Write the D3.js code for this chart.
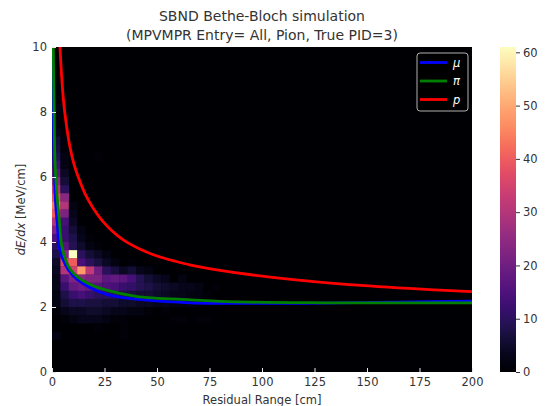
<!DOCTYPE html>
<html>
<head>
<meta charset="utf-8">
<script src="https://cdn.jsdelivr.net/npm/d3@7"></script>
<style>
  body { margin: 0; background: #fff; }
  text { font-family: "DejaVu Sans", sans-serif; fill: #333; }
</style>
</head>
<body>
<svg id="chart" width="547" height="406"></svg>
<script>
// ---- data ----
const titleLines = ["SBND Bethe-Bloch simulation", "(MPVMPR Entry= All, Pion, True PID=3)"];

// histogram: lower edge of each dE/dx row, counts per residual-range column (4 cm bins from 0)
const histBinR = 4;
const histBinE = 0.25;
const histE = [8.0, 7.75, 7.5, 7.25, 7.0, 6.75, 6.5, 6.25, 6.0, 5.75, 5.5, 5.25, 5.0, 4.75, 4.5, 4.25,
  4.0, 3.75, 3.5, 3.25, 3.0, 2.75, 2.5, 2.25, 2.0, 1.75, 1.5, 1.25, 1.0];
const histCounts = [
  [2],
  [1],
  [1],
  [3],
  [6, 1],
  [7, 1],
  [9, 2, 0, 0, 0, 1],
  [13, 2],
  [17, 4],
  [24, 6],
  [31, 10],
  [38, 24],
  [44, 30, 2],
  [40, 22, 3],
  [30, 14, 4],
  [22, 12, 6, 2],
  [15, 12, 8, 3, 1],
  [10, 16, 9, 5, 2, 1],
  [8, 24, 61, 10, 6, 4, 2],
  [5, 36, 40, 14, 10, 7, 4, 2, 0, 1],
  [4, 30, 34, 48, 32, 20, 10, 7, 4, 6, 3, 2],
  [3, 16, 22, 24, 22, 22, 17, 18, 17, 14, 9, 6, 4, 3, 0, 2],
  [3, 12, 18, 20, 18, 16, 15, 14, 12, 11, 9, 8, 6, 5, 4, 3, 3, 2, 0, 1],
  [2, 8, 12, 14, 12, 10, 10, 9, 8, 7, 6, 6, 5, 4, 3, 3, 2, 2, 1],
  [2, 6, 8, 8, 7, 7, 6, 6, 5, 5, 4, 4, 3, 3, 2, 2, 2, 1, 1, 1],
  [1, 3, 4, 4, 5, 5, 4, 3, 3, 2, 2, 1, 0, 1],
  [0, 1, 2, 3, 3, 3, 2, 1, 1, 0, 0, 0, 0, 0, 1, 1, 0, 1, 1],
  [0, 0, 0, 0, 0, 1, 0, 0, 1],
  [2, 0, 0, 0, 0, 0, 0, 0, 1]
];
const countMax = 61;

// Bethe-Bloch curves, points [residual range cm, dE/dx MeV/cm]
const muonCurve = [[0.3, 10], [0.6, 8], [1.0, 6.5], [1.5, 5.5], [1.9, 5.0], [2.6, 4.5], [3.3, 3.9],
  [5, 3.5], [7.8, 3.14], [12, 2.85], [18, 2.6], [26, 2.39], [40, 2.24], [66, 2.13], [94, 2.11],
  [130, 2.12], [165, 2.15], [200, 2.18]];
const pionCurve = [[0.6, 10], [1.0, 8], [1.4, 6.5], [2.3, 5.5], [3.0, 5.0], [3.7, 4.5], [4.6, 3.9],
  [6.5, 3.45], [8.6, 3.17], [12, 2.93], [18, 2.7], [26, 2.52], [40, 2.33], [66, 2.22], [94, 2.15],
  [130, 2.13], [165, 2.13], [200, 2.13]];
const protonCurve = [[3.8, 10], [4.5, 9.19], [5.4, 8.4], [6.5, 7.77], [8.5, 6.94], [10.5, 6.39],
  [12.5, 6.0], [16, 5.45], [20, 5.0], [24, 4.65], [28, 4.38], [32, 4.16], [36, 3.98], [42, 3.78],
  [50, 3.57], [58, 3.42], [66, 3.29], [80, 3.13], [94, 3.0], [115, 2.84], [137, 2.71], [170, 2.57],
  [200, 2.47]];

const legendNames = ["\u03bc", "\u03c0", "p"];
const curveColors = ["#0000ff", "#008000", "#ff0000"];
const cbarTicks = [0, 10, 20, 30, 40, 50, 60];

// ---- layout ----
const svg = d3.select("#chart");
const plotLeft = 52, plotRight = 472, plotTop = 47, plotBottom = 372;

const x = d3.scaleLinear().domain([0, 200]).range([plotLeft, plotRight]);
const y = d3.scaleLinear().domain([0, 10]).range([plotBottom, plotTop]);
const color = (n) => d3.interpolateMagma(n / countMax);

// title
svg.selectAll(".title")
  .data(titleLines)
  .enter()
  .append("text")
  .attr("x", (plotLeft + plotRight) / 2)
  .attr("y", (d, i) => 21 + i * 19)
  .attr("text-anchor", "middle")
  .style("font-size", "14px")
  .text(d => d);

// plot background = zero bin colour
const defs = svg.append("defs");
defs.append("clipPath").attr("id", "plotclip")
  .append("rect")
  .attr("x", plotLeft).attr("y", plotTop)
  .attr("width", plotRight - plotLeft).attr("height", plotBottom - plotTop);

svg.append("rect")
  .attr("x", plotLeft).attr("y", plotTop)
  .attr("width", plotRight - plotLeft).attr("height", plotBottom - plotTop)
  .attr("fill", color(0));

// flatten histogram into cells
let cells = [];
histE.forEach((e, i) => {
  histCounts[i].forEach((n, j) => {
    if (n > 0) cells.push({ r: j * histBinR, e: e, n: n });
  });
});

const plot = svg.append("g").attr("clip-path", "url(#plotclip)");

plot.selectAll("rect.cell")
  .data(cells)
  .enter()
  .append("rect")
  .attr("class", "cell")
  .attr("x", d => x(d.r))
  .attr("y", d => y(d.e + histBinE))
  .attr("width", d => x(d.r + histBinR) - x(d.r) + 0.3)
  .attr("height", d => y(d.e) - y(d.e + histBinE) + 0.3)
  .attr("fill", d => color(d.n));

// curves
const line = d3.line()
  .x(d => x(d[0]))
  .y(d => y(d[1]))
  .curve(d3.curveCatmullRom.alpha(0.5));

[muonCurve, pionCurve, protonCurve].forEach((c, i) => {
  plot.append("path")
    .datum(c)
    .attr("d", line)
    .attr("fill", "none")
    .attr("stroke", curveColors[i])
    .attr("stroke-width", 2.8);
});

// axes (ticks point inward)
const xAxis = d3.axisBottom(x).tickValues([0, 25, 50, 75, 100, 125, 150, 175, 200])
  .tickSize(-4).tickPadding(6);
const gx = svg.append("g").attr("transform", `translate(0,${plotBottom})`).call(xAxis);

const yAxis = d3.axisLeft(y).tickValues([0, 2, 4, 6, 8, 10])
  .tickSize(-4).tickPadding(5);
const gy = svg.append("g").attr("transform", `translate(${plotLeft},0)`).call(yAxis);

[gx, gy].forEach(g => {
  g.select(".domain").remove();
  g.selectAll(".tick line").attr("stroke", "#e8e8e8").attr("stroke-width", 1);
  g.selectAll(".tick text").style("font-size", "11.5px").style("font-family", "DejaVu Sans").attr("fill", "#333");
});

// axis labels
svg.append("text")
  .attr("x", (plotLeft + plotRight) / 2)
  .attr("y", 404)
  .attr("text-anchor", "middle")
  .style("font-size", "11.5px")
  .text("Residual Range [cm]");

const ylab = svg.append("text")
  .attr("transform", `translate(25,${(plotTop + plotBottom) / 2}) rotate(-90)`)
  .attr("text-anchor", "middle")
  .style("font-size", "11.5px");
ylab.append("tspan").style("font-style", "italic").text("dE/dx");
ylab.append("tspan").text(" [MeV/cm]");

// legend
const lg = svg.append("g");
lg.append("rect")
  .attr("x", 417).attr("y", 53)
  .attr("width", 51).attr("height", 58)
  .attr("rx", 3)
  .attr("fill", "#000")
  .attr("fill-opacity", 0.8)
  .attr("stroke", "#b0b0b0")
  .attr("stroke-width", 1);

legendNames.forEach((name, i) => {
  const ly = 62.5 + i * 18.5;
  lg.append("line")
    .attr("x1", 420).attr("x2", 447)
    .attr("y1", ly).attr("y2", ly)
    .attr("stroke", curveColors[i])
    .attr("stroke-width", 2.8);
  lg.append("text")
    .attr("x", 453)
    .attr("y", ly + 4)
    .style("font-size", "11.5px")
    .style("font-style", "italic")
    .style("fill", "#fff")
    .text(name);
});

// colorbar
const cbX = 500, cbW = 16;
const cScale = d3.scaleLinear().domain([0, countMax]).range([plotBottom, plotTop]);

const grad = defs.append("linearGradient")
  .attr("id", "magma")
  .attr("x1", 0).attr("y1", 1).attr("x2", 0).attr("y2", 0);
d3.range(0, 1.0001, 0.05).forEach(t => {
  grad.append("stop").attr("offset", t).attr("stop-color", d3.interpolateMagma(t));
});

svg.append("rect")
  .attr("x", cbX).attr("y", plotTop)
  .attr("width", cbW).attr("height", plotBottom - plotTop)
  .attr("fill", "url(#magma)");

const cAxis = d3.axisRight(cScale).tickValues(cbarTicks).tickSize(4).tickPadding(3);
const gc = svg.append("g").attr("transform", `translate(${cbX + cbW},0)`).call(cAxis);
gc.select(".domain").remove();
gc.selectAll(".tick line").attr("stroke", "#333");
gc.selectAll(".tick text").style("font-size", "11.5px").style("font-family", "DejaVu Sans").attr("fill", "#333");
</script>
</body>
</html>
